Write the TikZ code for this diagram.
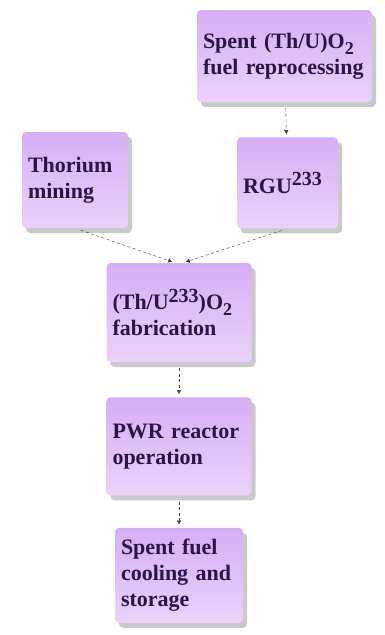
\documentclass[tikz,border=0pt]{standalone}
\usepackage{fontspec}
\setmainfont{Liberation Serif}
\usepackage{xcolor}
\usetikzlibrary{arrows.meta, positioning, shadows}
\definecolor{lilac}{HTML}{C995F0}
\definecolor{lilactop}{HTML}{D6AEF6}
\definecolor{lilacbot}{HTML}{E9D2FA}
\definecolor{inkpurple}{HTML}{2A1545}
\newcommand{\supnum}[1]{\raisebox{0.33em}{\fontsize{20}{20}\selectfont #1}}
\newcommand{\subnum}[1]{\raisebox{-0.28em}{\fontsize{18}{18}\selectfont #1}}

\begin{document}
\begin{tikzpicture}[
    x=1pt, y=-1pt,
    every node/.style={font=\fontsize{22}{26}\selectfont\bfseries},
    stage/.style={rectangle, rounded corners=4pt, align=left,
                  text=inkpurple, inner xsep=6pt, inner ysep=4pt,
                  top color=lilactop, middle color=lilac, bottom color=lilacbot,
                  text width=#1,
                  drop shadow={shadow xshift=4pt, shadow yshift=-5pt,
                               opacity=0.3, fill=black!70}},
    link/.style={-{Latex[length=4pt,width=4.5pt]}, dashed,
                 dash pattern=on 3pt off 2.5pt, thin, black!75,
                 shorten <=6pt, shorten >=3pt},
]
\useasboundingbox (0,0) rectangle (384,635);
\node[stage=163pt, minimum height=92pt] (repro) at (284.5,56)
     {Spent (Th/U)O\subnum{2}\\fuel reprocessing};
\node[stage=89pt, minimum height=91pt, below=35pt of repro, xshift=3pt] (rgu)
     {RGU\supnum{233}};
\node[stage=94pt, minimum height=96pt] (thor) at (75,180)
     {Thorium\\mining};
\node[stage=133pt, minimum height=99pt] (fab) at (179,312.5)
     {(Th/U\supnum{233})O\subnum{2}\\fabrication};
\node[stage=133pt, minimum height=98pt, below=35pt of fab] (pwr)
     {PWR reactor\\operation};
\node[stage=116pt, minimum height=95pt, below=32pt of pwr] (cool)
     {Spent fuel\\cooling and\\storage};
% feed lines into fabrication
\draw[link] (repro) -- (rgu);
\draw[link] (thor.south) -- ([xshift=-4pt]fab.north);
\draw[link] (rgu.south) -- ([xshift=4pt]fab.north);
\draw[link] (fab) -- (pwr);
\draw[link] (pwr) -- (cool);
\end{tikzpicture}
\end{document}
